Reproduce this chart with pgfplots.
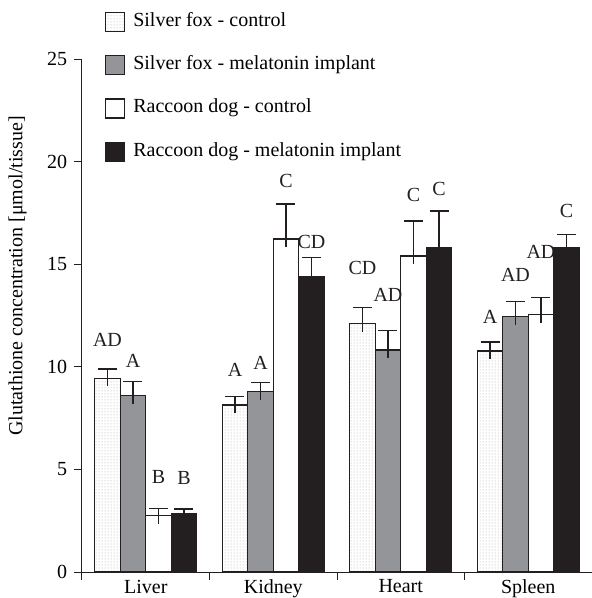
\documentclass[border=0pt]{standalone}
\usepackage{pgfplots}
\pgfplotsset{compat=1.18}
\usepackage{pgfplotstable}
\usetikzlibrary{patterns}
\usepackage{fontspec}
\setmainfont{Liberation Serif}
\definecolor{barblk}{HTML}{231F20}
\definecolor{bargray}{HTML}{939598}

\pgfplotstableread{
x y e l
-0.3 9.45 0.45 0.41
0.7 8.14 0.40 0.41
1.7 12.12 0.76 0.41
2.7 10.77 0.44 0.41
}\foxctrl
\pgfplotstableread{
x y e l
-0.1 8.58 0.70 0.41
0.9 8.79 0.45 0.41
1.9 10.82 0.94 0.41
2.9 12.44 0.73 0.41
}\foxmel
\pgfplotstableread{
x y e l
0.1 2.74 0.37 0.41
1.1 16.23 1.70 0.41
2.1 15.40 1.70 0.41
3.1 12.54 0.83 0.41
}\rdctrl
\pgfplotstableread{
x y e l
0.3 2.87 0.20 0.41
1.3 14.39 0.95 0.41
2.3 15.82 1.77 0.41
3.3 15.82 0.62 0.41
}\rdmel

\pgfplotsset{
  mybar/.style={ybar, bar width=0.2, bar shift=0pt, draw=barblk, line width=1.1pt},
  upper/.style={error bars/.cd, y dir=plus, y explicit,
    error bar style={line width=1.3pt, color=barblk},
    error mark options={rotate=90, line width=1.3pt, color=barblk, mark size=9.5pt}},
  lower/.style={ybar, bar width=0.2, bar shift=0pt, draw=none, fill=none, forget plot,
    error bars/.cd, y dir=minus, y explicit, error mark=none,
    error bar style={line width=1.3pt, color=barblk}},
}

\begin{document}
\fontsize{20}{24}\selectfont
\begin{tikzpicture}
\begin{axis}[
  at={(82pt,26pt)}, anchor=south west,
  scale only axis, width=510pt, height=513pt,
  xmin=-0.5, xmax=3.5, ymin=0, ymax=25,
  axis x line*=bottom, axis y line*=left,
  axis line style={line width=1pt, color=barblk, -},
  xtick={0,1,2,3}, xticklabels={Liver,Kidney,Heart,Spleen},
  minor xtick={-0.5,0.5,1.5,2.5,3.5},
  ytick={0,5,10,15,20,25},
  tick align=outside, xtick pos=bottom, ytick pos=left,
  major tick length=8pt, minor tick length=8pt,
  major x tick style={draw=none},
  tick style={line width=1pt, color=barblk},
  xticklabel style={yshift=7pt},
  /pgf/number format/assume math mode=true,
  every axis y label/.style={at={(axis description cs:-0.1265,0.577)}, rotate=90, anchor=center},
  ylabel={Glutathione concentration [μmol/tissue]},
  legend style={at={(axis description cs:0.0451,1.0916)}, anchor=north west,
    draw=none, fill=none, inner sep=0pt, row sep=23pt,
    nodes={inner sep=0pt, text height=14pt, text depth=5pt},
    cells={anchor=west},
    /tikz/every odd column/.append style={column sep=8pt}},
  legend image code/.code={\draw[#1] (0pt,-9.5pt) rectangle (19pt,9.5pt);},
  clip=false,
]
\addplot[mybar, fill=white, pattern=dots, pattern color=gray!70, upper] table[x=x, y=y, y error=e]{\foxctrl};
\addlegendentry{Silver fox - control}
\addplot[lower] table[x=x, y=y, y error=l]{\foxctrl};
\addplot[mybar, fill=bargray, upper] table[x=x, y=y, y error=e]{\foxmel};
\addlegendentry{Silver fox - melatonin implant}
\addplot[lower] table[x=x, y=y, y error=l]{\foxmel};
\addplot[mybar, fill=white, upper] table[x=x, y=y, y error=e]{\rdctrl};
\addlegendentry{Raccoon dog - control}
\addplot[lower] table[x=x, y=y, y error=l]{\rdctrl};
\addplot[mybar, fill=barblk, upper] table[x=x, y=y, y error=e]{\rdmel};
\addlegendentry{Raccoon dog - melatonin implant}
\addplot[lower] table[x=x, y=y, y error=l]{\rdmel};
\addplot[draw=none, forget plot, nodes near coords, point meta=explicit symbolic,
  nodes near coords align={center}, every node near coord/.append style={text=barblk}]
  coordinates {(-0.3,11.3)[AD] (-0.1,10.3)[A] (0.1,4.65)[B] (0.3,4.6)[B]
   (0.7,9.84)[A] (0.9,10.2)[A] (1.1,19.05)[C] (1.3,16.1)[CD]
   (1.7,14.8)[CD] (1.9,13.5)[AD] (2.1,18.37)[C] (2.3,18.65)[C]
   (2.7,12.44)[A] (2.9,14.47)[AD] (3.1,15.61)[AD] (3.3,17.61)[C]};
\end{axis}
\pgfresetboundingbox
\path (0,0) rectangle (592pt,598pt);
\end{tikzpicture}
\end{document}
